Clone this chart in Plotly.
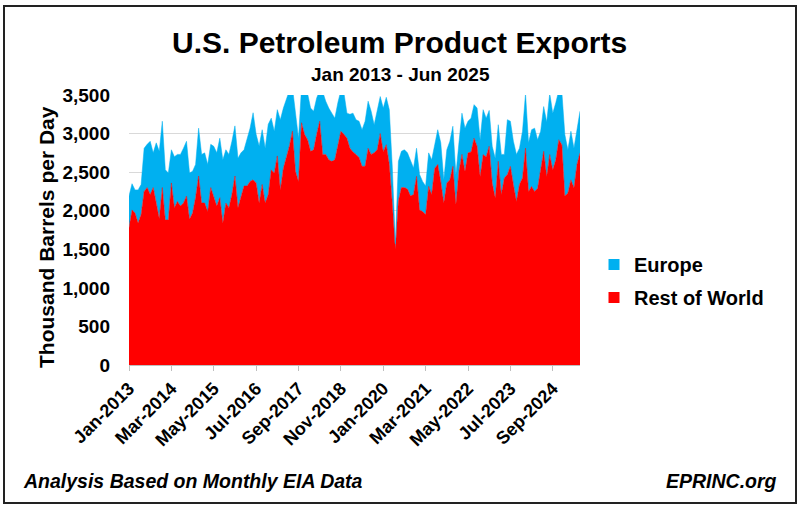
import pandas as pd
import plotly.graph_objects as go

# monthly categories Jan-2013 .. Jun-2025
months = pd.date_range("2013-01-01", periods=150, freq="MS").strftime("%b-%Y").tolist()
tick_labels = months[::14]

# thousand barrels per day
rest_of_world = [
    1780, 2010, 1970, 1840, 1950, 2250, 2300, 2210, 2300, 2080, 1900, 2300,
    1880, 1880, 2360, 2040, 2120, 2060, 2100, 2190, 1890, 1970, 2170, 2450,
    2100, 2100, 1990, 2300, 2170, 2060, 2170, 1840, 2100, 2040, 2210, 2450,
    2040, 2170, 2320, 2320, 2380, 2400, 2360, 2100, 2340, 2100, 2210, 2530,
    2490, 2710, 2270, 2550, 2680, 2840, 3030, 2510, 2380, 3140, 2990, 2920,
    2770, 2790, 2990, 3160, 2730, 2730, 2660, 2640, 2660, 2860, 3030, 2990,
    2940, 2810, 2760, 2730, 2690, 2575, 2575, 2810, 2730, 2750, 2790, 3000,
    2765, 2855, 2600, 2085, 1500, 2130, 2300, 2300, 2280, 2190, 2210, 2445,
    2010, 1990, 1950, 2315, 2210, 2550, 2600, 2380, 2100, 2360, 2400, 2575,
    2080, 2510, 2730, 2510, 2750, 2760, 2940, 2835, 2445, 2727, 2700, 2835,
    2360, 2165, 2640, 2210, 2425, 2470, 2575, 2340, 2120, 2340, 2425, 2810,
    2250, 2315, 2250, 2290, 2510, 2770, 2445, 2727, 2530, 2660, 2920, 2855,
    2190, 2230, 2400, 2295, 2600, 2750,
]
europe = [
    410, 340, 300, 430, 390, 560, 560, 690, 450, 800, 870, 860,
    650, 610, 430, 660, 610, 670, 710, 710, 600, 540, 430, 620,
    630, 650, 610, 560, 665, 690, 770, 820, 690, 690, 690, 650,
    640, 580, 470, 600, 690, 870, 630, 740, 710, 710, 910, 670,
    540, 600, 910, 780, 780, 720, 570, 740, 560, 460, 560, 600,
    560, 500, 470, 400, 810, 690, 670, 625, 540, 540, 530, 540,
    325, 440, 505, 450, 470, 475, 585, 610, 560, 365, 520, 480,
    565, 615, 710, 470, 70, 510, 470, 490, 470, 470, 345, 365,
    460, 390, 370, 435, 450, 305, 450, 500, 300, 430, 500, 520,
    390, 370, 535, 560, 410, 440, 435, 495, 475, 583, 500, 465,
    475, 515, 475, 520, 305, 710, 585, 560, 610, 470, 605, 710,
    630, 735, 820, 630, 520, 580, 705, 793, 735, 740, 640, 685,
    795, 560, 630, 515, 470, 540,
]

FONT = "Liberation Sans"
RED = "#ff0000"
BLUE = "#00b0f0"
W, H = 800, 509
L, R, T, B = 129, 220, 95, 144
pw, ph = W - L - R, H - T - B


def px(x):
    return (x - L) / pw


def py(y):
    return (H - B - y) / ph


fig = go.Figure()
fig.add_trace(go.Scatter(
    x=months, y=rest_of_world, name="Rest of World", stackgroup="one",
    mode="lines", line=dict(width=0.5, color=RED), fillcolor=RED,
    showlegend=False,
))
fig.add_trace(go.Scatter(
    x=months, y=europe, name="Europe", stackgroup="one",
    mode="lines", line=dict(width=0.5, color=BLUE), fillcolor=BLUE,
    showlegend=False,
))
# small square legend keys like the excel legend
for name, col, grp in [("Europe", BLUE, "eu"), ("Rest of World", RED, "row")]:
    fig.add_trace(go.Scatter(
        x=[None], y=[None], name=name, mode="markers", legendgroup=grp,
        marker=dict(symbol="square", size=11, color=col),
    ))

fig.update_xaxes(
    type="category", range=[0, len(months) - 1],
    tickmode="array", tickvals=tick_labels, ticktext=tick_labels,
    tickangle=-45, tickfont=dict(family=FONT, size=18, color="black", weight="bold"),
    ticks="outside", ticklen=5, tickcolor="#bfbfbf",
    showline=True, linecolor="#bfbfbf", linewidth=1, showgrid=False,
)
fig.update_yaxes(
    range=[0, 3500], dtick=500, tickformat=",",
    tickfont=dict(family=FONT, size=19, color="black", weight="bold"),
    showgrid=True, gridcolor="#d9d9d9", gridwidth=1, zeroline=False,
    ticks="", ticklabelstandoff=18,
)

annos = [
    dict(text="<b>U.S. Petroleum Product Exports</b>", x=px(399), y=py(42), size=30),
    dict(text="<b>Jan 2013 - Jun 2025</b>", x=px(400), y=py(75), size=19),
]
for a in annos:
    fig.add_annotation(text=a["text"], x=a["x"], y=a["y"], xref="paper", yref="paper",
                       showarrow=False, xanchor="center", yanchor="middle",
                       font=dict(family=FONT, size=a["size"], color="black"))

fig.add_annotation(text="<b>Thousand Barrels per Day</b>", x=px(46), y=py(237),
                   xref="paper", yref="paper", showarrow=False, textangle=-90,
                   xanchor="center", yanchor="middle",
                   font=dict(family=FONT, size=21, color="black"))
fig.add_annotation(text="<b><i>Analysis Based on Monthly EIA Data</i></b>", x=px(21), y=py(481),
                   xref="paper", yref="paper", showarrow=False, xanchor="left", yanchor="middle",
                   font=dict(family=FONT, size=19.5, color="black"))
fig.add_annotation(text="<b><i>EPRINC.org</i></b>", x=px(779), y=py(481),
                   xref="paper", yref="paper", showarrow=False, xanchor="right", yanchor="middle",
                   font=dict(family=FONT, size=19.5, color="black"))

# chart border
fig.add_shape(type="rect", xref="paper", yref="paper",
              x0=px(4), x1=px(796), y0=py(503), y1=py(6),
              line=dict(color="#222222", width=2))

fig.update_layout(
    width=W, height=H,
    margin=dict(l=L, r=R, t=T, b=B),
    paper_bgcolor="white", plot_bgcolor="white",
    showlegend=True,
    legend=dict(
        x=px(594), y=py(245), xanchor="left", yanchor="top",
        traceorder="grouped", tracegroupgap=4,
        font=dict(family=FONT, size=20, color="black", weight="bold"),
        bgcolor="rgba(0,0,0,0)",
    ),
    hovermode=False,
)

fig.write_html("out.html", config={"displayModeBar": False},
               post_script="document.body.style.margin='0px';")
